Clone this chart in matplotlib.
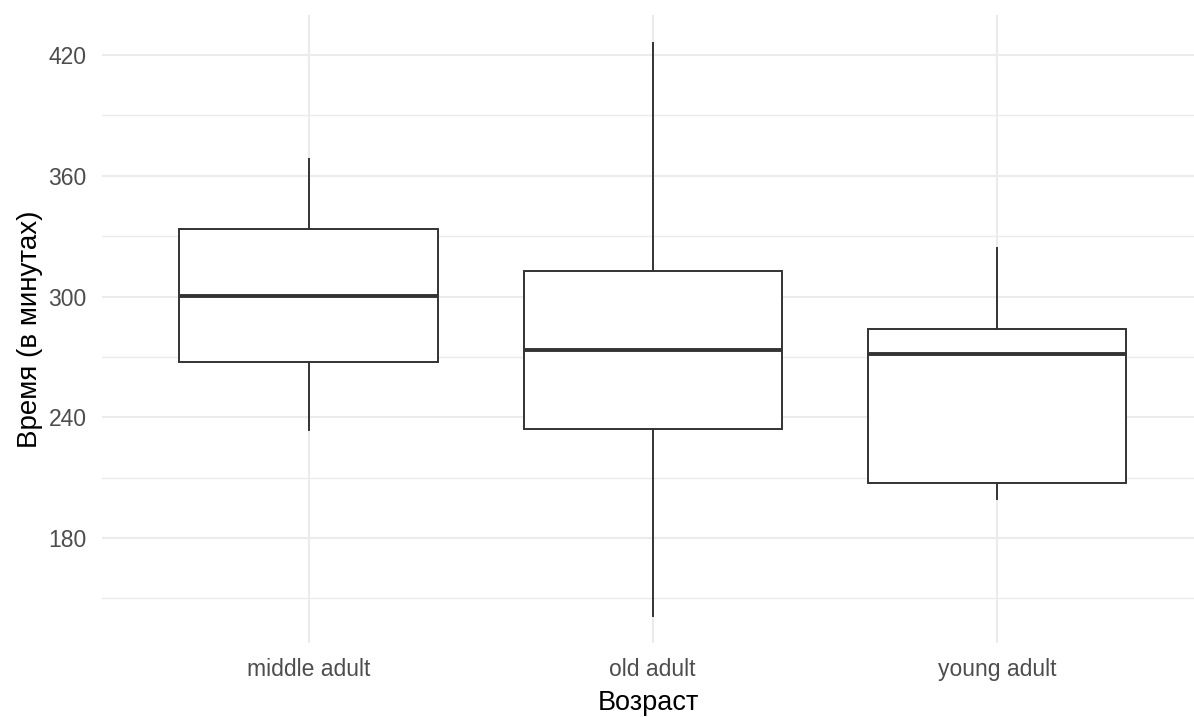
import matplotlib
matplotlib.use("Agg")
import matplotlib.pyplot as plt

plt.rcParams['font.family'] = ['Liberation Sans', 'DejaVu Sans']

# Boxplot summary values
groups = ['middle adult', 'old adult', 'young adult']
whisker_low = [233.7, 141.2, 199.4]
q1 = [267.5, 234.2, 207.3]
median = [300.2, 273.4, 271.4]
q3 = [333.5, 312.7, 283.9]
whisker_high = [368.3, 426.0, 324.1]

major_ticks = [180, 240, 300, 360, 420]
minor_ticks = [150, 210, 270, 330, 390]

stats = []
for i, name in enumerate(groups):
    stats.append({
        'label': name,
        'whislo': whisker_low[i],
        'q1': q1[i],
        'med': median[i],
        'q3': q3[i],
        'whishi': whisker_high[i],
        'fliers': [],
    })

W, H = 1194, 717
fig = plt.figure(figsize=(W / 100, H / 100), dpi=100)
ax = fig.add_axes([102 / W, (H - 643) / H, (W - 102) / W, (643 - 15) / H])

box_col = '#333333'
ax.bxp(stats, positions=range(len(groups)), widths=0.75, showcaps=False,
       patch_artist=True,
       boxprops=dict(facecolor='white', edgecolor=box_col, linewidth=1.4),
       whiskerprops=dict(color=box_col, linewidth=1.4),
       medianprops=dict(color=box_col, linewidth=2.8, solid_capstyle='butt'),
       zorder=3)

ax.set_xlim(-0.6, 2 + (W - 997) / 344)
ax.set_ylim(127.8, 439.9)
ax.set_yticks(major_ticks)
ax.set_yticks(minor_ticks, minor=True)
ax.set_xticks(range(len(groups)))
ax.set_xticklabels(groups)

ax.grid(True, which='major', color='#EBEBEB', linewidth=1.5, zorder=0)
ax.grid(True, which='minor', axis='y', color='#EBEBEB', linewidth=1.0, zorder=0)
ax.set_axisbelow(True)

for s in ax.spines.values():
    s.set_visible(False)
ax.tick_params(which='both', length=0)
ax.tick_params(axis='y', pad=11, labelsize=16.5, labelcolor='#4D4D4D')
ax.tick_params(axis='x', pad=11, labelsize=16.5, labelcolor='#4D4D4D')

ax.set_xlabel('Возраст', fontsize=19.5, color='black', labelpad=6)
ax.set_ylabel('Время (в минутах)', fontsize=20, color='black', labelpad=4)

fig.savefig('out.png', dpi=100)
